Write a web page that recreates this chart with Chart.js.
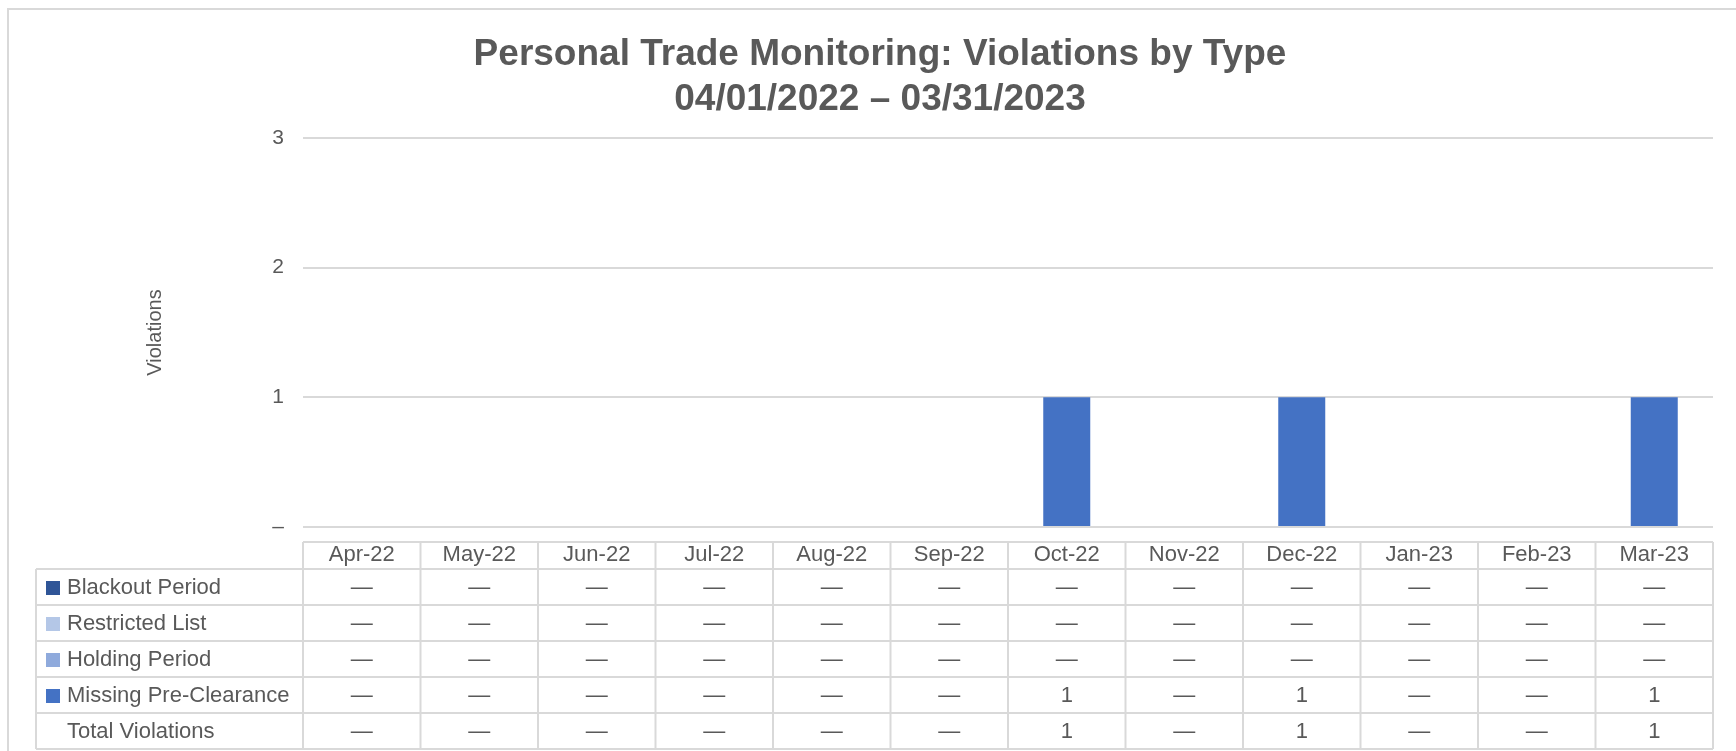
<!DOCTYPE html>
<html>
<head>
<meta charset="utf-8">
<script src="https://cdn.jsdelivr.net/npm/chart.js@4.4.1/dist/chart.umd.min.js"></script>
<style>
  html, body { margin: 0; padding: 0; background: #fff; }
  #wrap { width: 1736px; height: 751px; position: relative; }
</style>
</head>
<body>
<div id="wrap"><canvas id="c" width="1736" height="751"></canvas></div>
<script>
// ---- DATA ----
const categories = ["Apr-22","May-22","Jun-22","Jul-22","Aug-22","Sep-22","Oct-22","Nov-22","Dec-22","Jan-23","Feb-23","Mar-23"];
const blackoutPeriod       = [0,0,0,0,0,0,0,0,0,0,0,0];
const restrictedList       = [0,0,0,0,0,0,0,0,0,0,0,0];
const holdingPeriod        = [0,0,0,0,0,0,0,0,0,0,0,0];
const missingPreClearance  = [0,0,0,0,0,0,1,0,1,0,0,1];
const totalViolations      = [0,0,0,0,0,0,1,0,1,0,0,1];
const yTickValues = [0,1,2,3];
const titleLines = ["Personal Trade Monitoring: Violations by Type", "04/01/2022 \u2013 03/31/2023"];
const yAxisTitle = "Violations";

const seriesNames  = ["Blackout Period","Restricted List","Holding Period","Missing Pre-Clearance"];
const seriesValues = [blackoutPeriod, restrictedList, holdingPeriod, missingPreClearance];
const seriesColors = ["#2F5597","#B4C7E7","#8FAADC","#4472C4"];

const TEXT = "#595959";
const GRID = "#D9D9D9";
const FONT = "'Liberation Sans', Arial, sans-serif";

const frame = {
  id: 'frame',
  beforeDraw(chart) {
    const ctx = chart.ctx;
    ctx.save();
    ctx.fillStyle = '#fff';
    ctx.fillRect(0, 0, chart.width, chart.height);
    ctx.strokeStyle = GRID;
    ctx.lineWidth = 2;
    ctx.beginPath();
    ctx.moveTo(8, chart.height + 2);
    ctx.lineTo(8, 9);
    ctx.lineTo(chart.width + 2, 9);
    ctx.stroke();
    ctx.restore();
  }
};

const dataTable = {
  id: 'dataTable',
  afterDraw(chart) {
    const ctx = chart.ctx;
    const x = chart.scales.x;
    const n = categories.length;
    const colW = x.width / n;
    const headTop = 542, rowTop = 569, rowH = 36, labelLeft = 36;
    const rows = seriesNames.map((nm, i) => ({ name: nm, color: seriesColors[i], vals: seriesValues[i] }));
    rows.push({ name: "Total Violations", color: null, vals: totalViolations });
    const bottom = rowTop + rowH * rows.length;

    ctx.save();
    ctx.strokeStyle = GRID;
    ctx.lineWidth = 2;
    ctx.beginPath();
    ctx.moveTo(x.left, headTop); ctx.lineTo(x.right, headTop);
    for (let r = 0; r <= rows.length; r++) {
      const y = rowTop + r * rowH;
      ctx.moveTo(labelLeft, y); ctx.lineTo(x.right, y);
    }
    for (let i = 0; i <= n; i++) {
      const cx = x.left + i * colW;
      ctx.moveTo(cx, headTop); ctx.lineTo(cx, bottom);
    }
    ctx.moveTo(labelLeft, rowTop); ctx.lineTo(labelLeft, bottom);
    ctx.stroke();

    ctx.font = "22px " + FONT;
    ctx.fillStyle = TEXT;
    ctx.textBaseline = 'middle';
    rows.forEach((row, r) => {
      const cy = rowTop + r * rowH + rowH / 2 + 1;
      if (row.color) {
        ctx.fillStyle = row.color;
        ctx.fillRect(46, cy - 7, 14, 14);
      }
      ctx.fillStyle = TEXT;
      ctx.textAlign = 'left';
      ctx.fillText(row.name, 67, cy);
      ctx.textAlign = 'center';
      row.vals.forEach((v, i) => {
        const px = x.getPixelForValue(i);
        ctx.fillText(v === 0 ? "\u2014" : String(v), px, cy);
      });
    });
    ctx.restore();
  }
};

new Chart(document.getElementById('c'), {
  type: 'bar',
  data: {
    labels: categories,
    datasets: seriesNames.map((nm, i) => ({
      label: nm,
      data: seriesValues[i],
      backgroundColor: seriesColors[i],
      borderWidth: 0,
      categoryPercentage: 0.4,
      barPercentage: 1.0,
      yAxisID: 'y'
    }))
  },
  options: {
    responsive: false,
    animation: false,
    devicePixelRatio: 1,
    layout: { padding: { left: 24, right: 0, top: 0, bottom: 0 } },
    plugins: {
      legend: { display: false },
      tooltip: { enabled: false },
      title: {
        display: true,
        text: titleLines,
        color: TEXT,
        font: { family: FONT, size: 37, weight: 'bold', lineHeight: 1.216 },
        padding: { top: 32, bottom: 16 }
      }
    },
    scales: {
      x: {
        stacked: true,
        offset: true,
        grid: { display: false, drawTicks: false },
        border: { display: false },
        ticks: {
          color: TEXT,
          font: { family: FONT, size: 22 },
          padding: 15,
          maxRotation: 0,
          autoSkip: false
        },
        afterFit(s) { s.height = 224; }
      },
      y: {
        stacked: true,
        min: 0,
        max: 3,
        afterBuildTicks(s) { s.ticks = yTickValues.map(v => ({ value: v })); },
        grid: { color: GRID, lineWidth: 2, drawTicks: false },
        border: { display: false },
        ticks: {
          color: TEXT,
          font: { family: FONT, size: 21 },
          padding: 19,
          callback: (v) => v === 0 ? "\u2013" : String(v)
        },
        title: {
          display: true,
          text: yAxisTitle,
          color: TEXT,
          font: { family: FONT, size: 20 },
          padding: { top: 119, bottom: 0 }
        },
        afterFit(s) { s.width = 279; }
      },
      yR: {
        position: 'right',
        display: true,
        grid: { display: false, drawTicks: false },
        border: { display: false },
        ticks: { display: false },
        afterFit(s) { s.width = 23; }
      }
    }
  },
  plugins: [frame, dataTable]
});
</script>
</body>
</html>
